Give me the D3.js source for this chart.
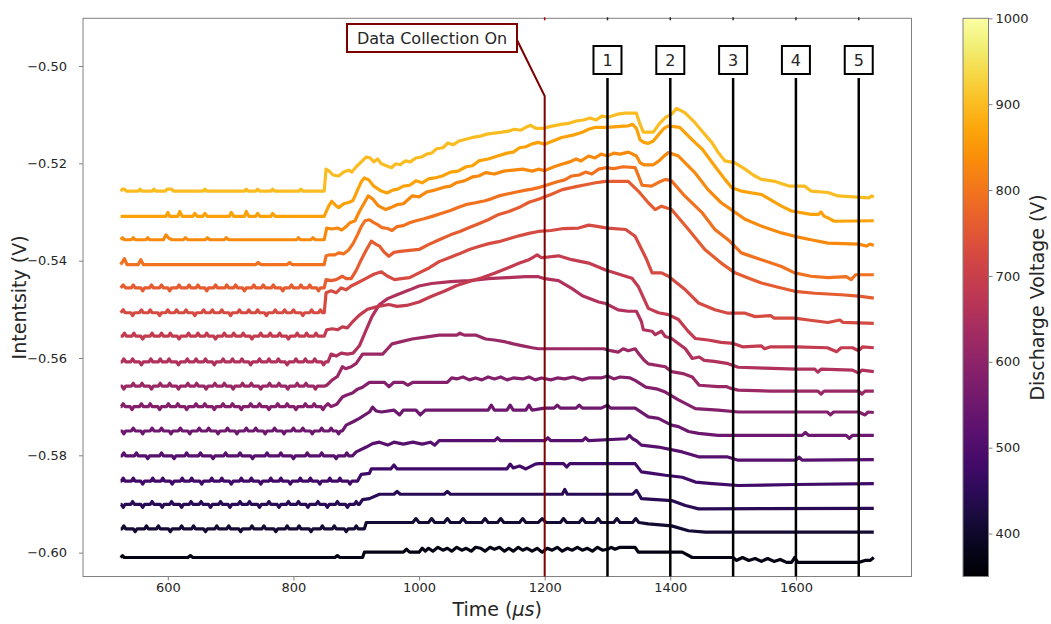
<!DOCTYPE html>
<html>
<head>
<meta charset="utf-8">
<script src="https://cdn.jsdelivr.net/npm/d3@7"></script>
<style>
  body { margin: 0; background: #fff; }
  svg { display: block; }
  text { font-family: "DejaVu Sans", sans-serif; fill: #262626; }
</style>
</head>
<body>
<svg id="chart" width="1051" height="624"></svg>
<script>
// Discharge voltage of each trace (V), top trace first
const voltages = [900, 865, 830, 795, 760, 725, 690, 655, 620, 585, 550, 515, 480, 445, 410, 375];

// Probe intensity traces: [time (µs), intensity (V)]
const trace900 = [[525,-.5257],[528,-.5253],[531,-.5253],[534,-.5257],[553,-.5257],[556,-.5253],[559,-.5257],[575,-.5257],[578,-.5253],[581,-.5257],[596,-.5257],[599,-.5253],[606,-.5253],[609,-.5257],[656,-.5257],[659,-.5253],[662,-.5257],[722,-.5257],[725,-.5253],[728,-.5257],[740,-.5257],[743,-.5253],[746,-.5257],[764,-.5257],[767,-.5253],[770,-.5257],[809,-.5257],[812,-.5253],[815,-.5257],[849,-.5257],[852,-.5212],[857,-.5216],[863,-.5224],[872,-.5226],[880,-.5218],[888,-.5214],[893,-.5218],[900,-.5207],[908,-.5197],[916,-.5187],[922,-.5189],[928,-.5197],[934,-.5191],[940,-.5201],[948,-.5205],[956,-.5209],[963,-.5201],[970,-.5203],[978,-.5195],[986,-.5197],[995,-.5189],[1004,-.5187],[1012,-.5181],[1020,-.5179],[1028,-.5170],[1038,-.5168],[1046,-.5158],[1054,-.5162],[1064,-.5154],[1076,-.5150],[1088,-.5146],[1098,-.5144],[1108,-.5140],[1120,-.5138],[1132,-.5136],[1142,-.5134],[1152,-.5130],[1162,-.5132],[1170,-.5126],[1178,-.5122],[1186,-.5128],[1198,-.5128],[1210,-.5124],[1226,-.5120],[1238,-.5118],[1250,-.5113],[1262,-.5111],[1272,-.5107],[1282,-.5111],[1291,-.5103],[1302,-.5105],[1316,-.5099],[1328,-.5097],[1346,-.5097],[1352,-.5120],[1357,-.5136],[1373,-.5136],[1383,-.5118],[1393,-.5105],[1402,-.5099],[1410,-.5087],[1423,-.5096],[1439,-.5116],[1452,-.5136],[1466,-.5157],[1477,-.5179],[1487,-.5195],[1503,-.5199],[1519,-.5212],[1532,-.5224],[1545,-.5233],[1566,-.5237],[1580,-.5243],[1590,-.5247],[1614,-.5247],[1624,-.5257],[1651,-.5260],[1667,-.5267],[1716,-.5271],[1720,-.5267],[1724,-.5269]];
const trace865 = [[525,-.5309],[597,-.5309],[600,-.5301],[603,-.5309],[616,-.5309],[619,-.5299],[623,-.5309],[640,-.5309],[643,-.5303],[647,-.5309],[656,-.5309],[659,-.5303],[663,-.5309],[698,-.5309],[701,-.5301],[705,-.5309],[722,-.5309],[725,-.5299],[729,-.5309],[740,-.5309],[743,-.5303],[747,-.5309],[764,-.5309],[767,-.5303],[771,-.5309],[849,-.5309],[856,-.5288],[861,-.5278],[866,-.5285],[872,-.5291],[880,-.5283],[889,-.5280],[895,-.5276],[902,-.5255],[908,-.5238],[913,-.5230],[920,-.5234],[928,-.5247],[940,-.5257],[949,-.5261],[958,-.5255],[966,-.5253],[975,-.5247],[985,-.5245],[995,-.5236],[1005,-.5240],[1015,-.5232],[1025,-.5230],[1037,-.5226],[1050,-.5218],[1062,-.5216],[1075,-.5207],[1085,-.5205],[1095,-.5195],[1110,-.5191],[1125,-.5185],[1140,-.5179],[1150,-.5177],[1160,-.5168],[1170,-.5166],[1180,-.5160],[1190,-.5157],[1200,-.5161],[1215,-.5153],[1227,-.5147],[1245,-.5142],[1260,-.5136],[1270,-.5130],[1281,-.5126],[1300,-.5126],[1320,-.5124],[1333,-.5123],[1340,-.5120],[1346,-.5128],[1352,-.5152],[1358,-.5157],[1365,-.5159],[1373,-.5154],[1382,-.5140],[1390,-.5128],[1397,-.5123],[1415,-.5126],[1429,-.5144],[1440,-.5158],[1451,-.5171],[1471,-.5206],[1487,-.5233],[1498,-.5250],[1513,-.5257],[1545,-.5264],[1560,-.5275],[1577,-.5288],[1593,-.5298],[1624,-.5305],[1636,-.5305],[1640,-.5300],[1645,-.5309],[1651,-.5312],[1661,-.5319],[1724,-.5318]];
const trace830 = [[525,-.5357],[528,-.5353],[531,-.5357],[542,-.5357],[545,-.5353],[548,-.5357],[565,-.5357],[568,-.5353],[571,-.5357],[593,-.5357],[597,-.5347],[601,-.5353],[606,-.5357],[625,-.5357],[628,-.5353],[632,-.5357],[660,-.5357],[663,-.5353],[667,-.5357],[690,-.5357],[693,-.5353],[697,-.5357],[805,-.5357],[808,-.5353],[811,-.5357],[828,-.5357],[831,-.5353],[835,-.5357],[849,-.5357],[853,-.5333],[862,-.5335],[870,-.5333],[877,-.5337],[884,-.5330],[890,-.5322],[898,-.5318],[905,-.5299],[912,-.5283],[919,-.5267],[926,-.5273],[935,-.5287],[947,-.5295],[955,-.5291],[965,-.5285],[975,-.5283],[989,-.5267],[1000,-.5269],[1012,-.5259],[1025,-.5255],[1040,-.5249],[1050,-.5247],[1059,-.5240],[1072,-.5236],[1085,-.5228],[1095,-.5226],[1106,-.5219],[1120,-.5222],[1135,-.5216],[1150,-.5214],[1165,-.5212],[1180,-.5216],[1190,-.5212],[1200,-.5215],[1215,-.5207],[1227,-.5202],[1240,-.5197],[1250,-.5191],[1258,-.5195],[1270,-.5185],[1280,-.5189],[1290,-.5181],[1300,-.5185],[1310,-.5179],[1320,-.5181],[1333,-.5177],[1340,-.5181],[1346,-.5185],[1352,-.5199],[1358,-.5203],[1373,-.5203],[1382,-.5195],[1390,-.5185],[1397,-.5178],[1413,-.5185],[1439,-.5219],[1460,-.5254],[1481,-.5281],[1497,-.5295],[1519,-.5315],[1545,-.5329],[1577,-.5343],[1598,-.5350],[1624,-.5357],[1651,-.5364],[1700,-.5366],[1712,-.5370],[1718,-.5366],[1724,-.5369]];
const trace795 = [[525,-.5408],[528,-.5402],[531,-.5396],[535,-.5408],[553,-.5408],[557,-.5398],[561,-.5408],[740,-.5408],[744,-.5404],[748,-.5408],[790,-.5408],[794,-.5404],[798,-.5408],[849,-.5408],[852,-.5390],[858,-.5388],[866,-.5388],[872,-.5384],[880,-.5386],[888,-.5378],[895,-.5365],[902,-.5347],[908,-.5330],[914,-.5318],[921,-.5316],[928,-.5322],[934,-.5326],[941,-.5332],[950,-.5334],[957,-.5338],[965,-.5330],[975,-.5328],[985,-.5322],[995,-.5318],[1008,-.5314],[1021,-.5309],[1035,-.5303],[1050,-.5297],[1062,-.5291],[1074,-.5285],[1090,-.5281],[1105,-.5277],[1115,-.5273],[1127,-.5267],[1140,-.5263],[1155,-.5259],[1170,-.5255],[1180,-.5253],[1190,-.5250],[1205,-.5244],[1220,-.5238],[1232,-.5234],[1243,-.5226],[1255,-.5224],[1265,-.5218],[1275,-.5222],[1286,-.5212],[1297,-.5209],[1310,-.5211],[1325,-.5207],[1344,-.5209],[1350,-.5228],[1355,-.5245],[1370,-.5247],[1380,-.5240],[1392,-.5233],[1402,-.5236],[1423,-.5267],[1451,-.5302],[1471,-.5336],[1492,-.5357],[1513,-.5384],[1545,-.5398],[1577,-.5412],[1598,-.5425],[1624,-.5432],[1651,-.5435],[1680,-.5433],[1688,-.5439],[1695,-.5429],[1724,-.5429]];
const trace760 = [[525,-.5456],[529,-.5450],[533,-.5456],[542,-.5456],[545,-.5450],[548,-.5456],[557,-.5456],[560,-.5462],[563,-.5456],[571,-.5456],[574,-.5450],[577,-.5456],[587,-.5456],[590,-.5450],[593,-.5456],[600,-.5456],[603,-.5462],[606,-.5456],[615,-.5456],[618,-.5450],[621,-.5456],[631,-.5456],[634,-.5450],[637,-.5456],[645,-.5456],[648,-.5450],[651,-.5456],[659,-.5456],[662,-.5462],[665,-.5456],[673,-.5456],[676,-.5450],[679,-.5456],[691,-.5456],[694,-.5450],[697,-.5456],[705,-.5456],[708,-.5450],[711,-.5456],[719,-.5456],[722,-.5462],[725,-.5456],[734,-.5456],[737,-.5450],[740,-.5456],[749,-.5456],[752,-.5450],[755,-.5456],[765,-.5456],[768,-.5450],[771,-.5456],[780,-.5456],[783,-.5462],[786,-.5456],[794,-.5456],[797,-.5450],[800,-.5456],[809,-.5456],[812,-.5450],[815,-.5456],[823,-.5456],[826,-.5450],[829,-.5456],[837,-.5456],[840,-.5462],[843,-.5456],[849,-.5456],[852,-.5439],[860,-.5441],[868,-.5439],[878,-.5432],[884,-.5437],[892,-.5437],[900,-.5420],[908,-.5398],[916,-.5378],[924,-.5360],[931,-.5366],[937,-.5370],[944,-.5382],[952,-.5391],[960,-.5383],[970,-.5381],[985,-.5379],[1000,-.5377],[1015,-.5367],[1032,-.5357],[1050,-.5347],[1065,-.5340],[1080,-.5332],[1095,-.5324],[1110,-.5316],[1127,-.5305],[1143,-.5299],[1159,-.5291],[1175,-.5280],[1190,-.5274],[1210,-.5264],[1228,-.5254],[1250,-.5248],[1265,-.5244],[1281,-.5240],[1297,-.5237],[1333,-.5237],[1349,-.5257],[1365,-.5281],[1376,-.5295],[1386,-.5288],[1402,-.5295],[1429,-.5336],[1455,-.5377],[1481,-.5405],[1503,-.5425],[1525,-.5436],[1545,-.5446],[1570,-.5454],[1598,-.5463],[1630,-.5467],[1672,-.5470],[1700,-.5473],[1724,-.5477]];
const trace725 = [[525,-.5507],[529,-.5501],[532,-.5507],[541,-.5507],[544,-.5513],[547,-.5507],[555,-.5507],[558,-.5501],[561,-.5507],[569,-.5507],[572,-.5501],[575,-.5507],[584,-.5507],[587,-.5513],[590,-.5507],[597,-.5507],[600,-.5501],[603,-.5507],[611,-.5507],[614,-.5501],[617,-.5507],[626,-.5507],[629,-.5501],[632,-.5507],[640,-.5507],[643,-.5513],[646,-.5507],[654,-.5507],[657,-.5501],[660,-.5507],[668,-.5507],[671,-.5501],[674,-.5507],[683,-.5507],[686,-.5501],[689,-.5507],[697,-.5507],[700,-.5513],[703,-.5507],[711,-.5507],[714,-.5501],[717,-.5507],[726,-.5507],[729,-.5501],[732,-.5507],[740,-.5507],[743,-.5501],[746,-.5507],[754,-.5507],[757,-.5513],[760,-.5507],[768,-.5507],[771,-.5501],[774,-.5507],[783,-.5507],[786,-.5501],[789,-.5507],[797,-.5507],[800,-.5501],[803,-.5507],[812,-.5507],[815,-.5513],[818,-.5507],[826,-.5507],[829,-.5501],[832,-.5507],[840,-.5507],[843,-.5501],[846,-.5507],[849,-.5507],[852,-.5466],[860,-.5462],[868,-.5466],[876,-.5456],[884,-.5460],[892,-.5452],[900,-.5447],[915,-.5437],[928,-.5428],[940,-.5423],[950,-.5432],[961,-.5439],[972,-.5437],[985,-.5435],[1000,-.5425],[1016,-.5415],[1032,-.5402],[1048,-.5394],[1064,-.5386],[1080,-.5377],[1095,-.5371],[1111,-.5365],[1127,-.5361],[1143,-.5355],[1159,-.5349],[1175,-.5344],[1190,-.5340],[1210,-.5338],[1230,-.5334],[1254,-.5333],[1270,-.5327],[1281,-.5329],[1300,-.5333],[1329,-.5336],[1344,-.5350],[1361,-.5394],[1371,-.5425],[1386,-.5425],[1397,-.5432],[1424,-.5460],[1445,-.5487],[1471,-.5501],[1492,-.5508],[1519,-.5508],[1535,-.5515],[1560,-.5513],[1565,-.5518],[1598,-.5518],[1620,-.5522],[1651,-.5527],[1670,-.5522],[1675,-.5527],[1724,-.5529]];
const trace690 = [[525,-.5555],[528,-.5555],[531,-.5549],[534,-.5555],[543,-.5555],[546,-.5549],[549,-.5555],[557,-.5555],[560,-.5561],[563,-.5555],[572,-.5555],[575,-.5549],[578,-.5555],[587,-.5555],[590,-.5549],[593,-.5555],[601,-.5555],[604,-.5549],[607,-.5555],[615,-.5555],[618,-.5561],[621,-.5555],[630,-.5555],[633,-.5549],[636,-.5555],[645,-.5555],[648,-.5549],[651,-.5555],[659,-.5555],[662,-.5549],[665,-.5555],[673,-.5555],[676,-.5561],[679,-.5555],[687,-.5555],[690,-.5549],[693,-.5555],[702,-.5555],[705,-.5549],[708,-.5555],[717,-.5555],[720,-.5549],[723,-.5555],[731,-.5555],[734,-.5561],[737,-.5555],[745,-.5555],[748,-.5549],[751,-.5555],[760,-.5555],[763,-.5549],[766,-.5555],[775,-.5555],[778,-.5549],[781,-.5555],[789,-.5555],[792,-.5561],[795,-.5555],[803,-.5555],[806,-.5549],[809,-.5555],[818,-.5555],[821,-.5549],[824,-.5555],[833,-.5555],[836,-.5549],[839,-.5555],[849,-.5555],[853,-.5542],[862,-.5540],[870,-.5542],[878,-.5536],[886,-.5538],[894,-.5526],[905,-.5512],[918,-.5500],[935,-.5494],[952,-.5490],[965,-.5494],[980,-.5492],[1000,-.5485],[1020,-.5473],[1040,-.5463],[1060,-.5451],[1080,-.5443],[1100,-.5435],[1120,-.5426],[1143,-.5414],[1160,-.5405],[1175,-.5398],[1183,-.5392],[1188,-.5388],[1195,-.5394],[1222,-.5390],[1243,-.5398],[1270,-.5405],[1297,-.5419],[1339,-.5436],[1349,-.5453],[1365,-.5498],[1381,-.5507],[1397,-.5511],[1413,-.5521],[1429,-.5546],[1440,-.5560],[1460,-.5563],[1481,-.5568],[1500,-.5570],[1515,-.5577],[1545,-.5575],[1550,-.5581],[1560,-.5577],[1600,-.5577],[1650,-.5579],[1665,-.5587],[1672,-.5579],[1690,-.5579],[1700,-.5585],[1706,-.5577],[1724,-.5579]];
const trace655 = [[525,-.5608],[527,-.5608],[530,-.5602],[533,-.5608],[541,-.5608],[544,-.5602],[547,-.5608],[555,-.5608],[558,-.5614],[561,-.5608],[570,-.5608],[573,-.5602],[576,-.5608],[585,-.5608],[588,-.5602],[591,-.5608],[599,-.5608],[602,-.5602],[605,-.5608],[614,-.5608],[617,-.5614],[620,-.5608],[628,-.5608],[631,-.5602],[634,-.5608],[642,-.5608],[645,-.5602],[648,-.5608],[657,-.5608],[660,-.5602],[663,-.5608],[671,-.5608],[674,-.5614],[677,-.5608],[685,-.5608],[688,-.5602],[691,-.5608],[700,-.5608],[703,-.5602],[706,-.5608],[715,-.5608],[718,-.5602],[721,-.5608],[729,-.5608],[732,-.5614],[735,-.5608],[743,-.5608],[746,-.5602],[749,-.5608],[758,-.5608],[761,-.5602],[764,-.5608],[773,-.5608],[776,-.5602],[779,-.5608],[787,-.5608],[790,-.5614],[793,-.5608],[801,-.5608],[804,-.5602],[807,-.5608],[816,-.5608],[819,-.5602],[822,-.5608],[831,-.5608],[834,-.5602],[837,-.5608],[845,-.5608],[848,-.5614],[851,-.5608],[855,-.5608],[860,-.5592],[868,-.5596],[876,-.5590],[886,-.5592],[895,-.5590],[905,-.5575],[915,-.5545],[925,-.5515],[937,-.5490],[950,-.5478],[965,-.5470],[985,-.5460],[1000,-.5452],[1020,-.5447],[1050,-.5443],[1080,-.5441],[1110,-.5437],[1140,-.5435],[1170,-.5433],[1190,-.5433],[1200,-.5437],[1222,-.5441],[1243,-.5457],[1260,-.5472],[1286,-.5485],[1297,-.5488],[1317,-.5501],[1333,-.5504],[1346,-.5504],[1354,-.5525],[1357,-.5542],[1371,-.5545],[1376,-.5552],[1386,-.5545],[1392,-.5556],[1402,-.5560],[1424,-.5581],[1435,-.5601],[1446,-.5598],[1454,-.5605],[1470,-.5607],[1490,-.5611],[1508,-.5619],[1550,-.5621],[1600,-.5623],[1630,-.5623],[1635,-.5629],[1640,-.5623],[1690,-.5625],[1700,-.5631],[1705,-.5625],[1724,-.5628]];
const trace620 = [[525,-.5658],[527,-.5658],[530,-.5664],[533,-.5658],[542,-.5658],[545,-.5652],[548,-.5658],[556,-.5658],[559,-.5652],[562,-.5658],[571,-.5658],[574,-.5664],[577,-.5658],[585,-.5658],[588,-.5652],[591,-.5658],[600,-.5658],[603,-.5652],[606,-.5658],[614,-.5658],[617,-.5664],[620,-.5658],[629,-.5658],[632,-.5652],[635,-.5658],[643,-.5658],[646,-.5652],[649,-.5658],[658,-.5658],[661,-.5664],[664,-.5658],[672,-.5658],[675,-.5652],[678,-.5658],[687,-.5658],[690,-.5652],[693,-.5658],[701,-.5658],[704,-.5664],[707,-.5658],[716,-.5658],[719,-.5652],[722,-.5658],[730,-.5658],[733,-.5652],[736,-.5658],[745,-.5658],[748,-.5664],[751,-.5658],[759,-.5658],[762,-.5652],[765,-.5658],[774,-.5658],[777,-.5652],[780,-.5658],[788,-.5658],[791,-.5664],[794,-.5658],[803,-.5658],[806,-.5652],[809,-.5658],[817,-.5658],[820,-.5652],[823,-.5658],[832,-.5658],[835,-.5664],[838,-.5658],[849,-.5658],[853,-.5656],[862,-.5645],[870,-.5638],[878,-.5618],[883,-.5622],[892,-.5618],[900,-.5611],[910,-.5592],[925,-.5592],[942,-.5592],[950,-.5581],[957,-.5571],[970,-.5567],[989,-.5561],[1010,-.5557],[1032,-.5553],[1060,-.5553],[1065,-.5549],[1072,-.5553],[1090,-.5553],[1098,-.5557],[1106,-.5561],[1120,-.5563],[1138,-.5567],[1150,-.5571],[1165,-.5575],[1180,-.5579],[1190,-.5581],[1294,-.5581],[1305,-.5585],[1317,-.5588],[1325,-.5581],[1333,-.5585],[1344,-.5581],[1349,-.5590],[1358,-.5604],[1365,-.5612],[1392,-.5618],[1402,-.5628],[1420,-.5632],[1435,-.5639],[1446,-.5656],[1476,-.5659],[1490,-.5659],[1495,-.5662],[1508,-.5666],[1560,-.5668],[1635,-.5668],[1640,-.5674],[1645,-.5668],[1700,-.5668],[1705,-.5674],[1710,-.5668],[1724,-.5668]];
const trace585 = [[525,-.5700],[526,-.5700],[529,-.5694],[532,-.5700],[540,-.5700],[543,-.5706],[546,-.5700],[555,-.5700],[558,-.5694],[561,-.5700],[569,-.5700],[572,-.5694],[575,-.5700],[584,-.5700],[587,-.5706],[590,-.5700],[598,-.5700],[601,-.5694],[604,-.5700],[613,-.5700],[616,-.5694],[619,-.5700],[627,-.5700],[630,-.5706],[633,-.5700],[642,-.5700],[645,-.5694],[648,-.5700],[656,-.5700],[659,-.5694],[662,-.5700],[671,-.5700],[674,-.5706],[677,-.5700],[685,-.5700],[688,-.5694],[691,-.5700],[700,-.5700],[703,-.5694],[706,-.5700],[714,-.5700],[717,-.5706],[720,-.5700],[729,-.5700],[732,-.5694],[735,-.5700],[743,-.5700],[746,-.5694],[749,-.5700],[758,-.5700],[761,-.5706],[764,-.5700],[772,-.5700],[775,-.5694],[778,-.5700],[787,-.5700],[790,-.5694],[793,-.5700],[801,-.5700],[804,-.5706],[807,-.5700],[816,-.5700],[819,-.5694],[822,-.5700],[830,-.5700],[833,-.5694],[836,-.5700],[844,-.5700],[847,-.5706],[850,-.5700],[855,-.5694],[860,-.5700],[869,-.5695],[878,-.5680],[885,-.5676],[894,-.5672],[902,-.5664],[910,-.5660],[921,-.5650],[945,-.5650],[952,-.5659],[960,-.5650],[975,-.5650],[982,-.5656],[990,-.5650],[1045,-.5650],[1052,-.5641],[1060,-.5643],[1070,-.5639],[1080,-.5645],[1090,-.5641],[1100,-.5645],[1110,-.5639],[1120,-.5643],[1130,-.5639],[1140,-.5645],[1150,-.5641],[1165,-.5643],[1175,-.5639],[1185,-.5645],[1195,-.5641],[1210,-.5645],[1220,-.5641],[1232,-.5643],[1245,-.5639],[1260,-.5645],[1270,-.5641],[1290,-.5641],[1300,-.5637],[1310,-.5643],[1320,-.5639],[1336,-.5641],[1344,-.5646],[1361,-.5660],[1380,-.5664],[1392,-.5670],[1413,-.5686],[1440,-.5704],[1476,-.5707],[1508,-.5711],[1650,-.5711],[1655,-.5717],[1660,-.5711],[1700,-.5711],[1710,-.5717],[1715,-.5711],[1724,-.5712]];
const trace550 = [[525,-.5750],[527,-.5750],[530,-.5756],[533,-.5750],[542,-.5750],[545,-.5744],[548,-.5750],[557,-.5750],[560,-.5756],[563,-.5750],[572,-.5750],[575,-.5744],[578,-.5750],[587,-.5750],[590,-.5744],[593,-.5750],[602,-.5750],[605,-.5756],[608,-.5750],[617,-.5750],[620,-.5744],[623,-.5750],[632,-.5750],[635,-.5756],[638,-.5750],[647,-.5750],[650,-.5744],[653,-.5750],[662,-.5750],[665,-.5744],[668,-.5750],[677,-.5750],[680,-.5756],[683,-.5750],[692,-.5750],[695,-.5744],[698,-.5750],[707,-.5750],[710,-.5756],[713,-.5750],[722,-.5750],[725,-.5744],[728,-.5750],[737,-.5750],[740,-.5744],[743,-.5750],[752,-.5750],[755,-.5756],[758,-.5750],[767,-.5750],[770,-.5744],[773,-.5750],[782,-.5750],[785,-.5756],[788,-.5750],[797,-.5750],[800,-.5744],[803,-.5750],[812,-.5750],[815,-.5744],[818,-.5750],[827,-.5750],[830,-.5756],[833,-.5750],[842,-.5750],[845,-.5744],[848,-.5750],[857,-.5750],[860,-.5744],[863,-.5750],[869,-.5750],[872,-.5756],[875,-.5750],[878,-.5750],[884,-.5738],[895,-.5731],[905,-.5724],[921,-.5711],[926,-.5701],[932,-.5709],[940,-.5711],[960,-.5707],[969,-.5717],[975,-.5707],[995,-.5707],[1002,-.5717],[1010,-.5707],[1110,-.5707],[1115,-.5697],[1120,-.5707],[1140,-.5707],[1145,-.5697],[1150,-.5707],[1170,-.5707],[1175,-.5697],[1180,-.5707],[1200,-.5703],[1215,-.5703],[1220,-.5697],[1225,-.5703],[1250,-.5703],[1255,-.5697],[1260,-.5703],[1290,-.5703],[1300,-.5697],[1305,-.5703],[1344,-.5703],[1365,-.5721],[1381,-.5724],[1402,-.5738],[1413,-.5741],[1429,-.5751],[1445,-.5755],[1476,-.5759],[1610,-.5759],[1615,-.5753],[1620,-.5759],[1680,-.5759],[1685,-.5765],[1690,-.5759],[1724,-.5759]];
const trace515 = [[525,-.5801],[527,-.5801],[530,-.5795],[533,-.5801],[547,-.5801],[550,-.5795],[553,-.5801],[565,-.5801],[568,-.5807],[571,-.5801],[587,-.5801],[590,-.5795],[593,-.5801],[607,-.5801],[610,-.5807],[613,-.5801],[627,-.5801],[630,-.5795],[633,-.5801],[649,-.5801],[652,-.5795],[655,-.5801],[669,-.5801],[672,-.5807],[675,-.5801],[689,-.5801],[692,-.5795],[695,-.5801],[712,-.5801],[715,-.5795],[718,-.5801],[732,-.5801],[735,-.5807],[738,-.5801],[755,-.5801],[758,-.5795],[761,-.5801],[777,-.5801],[780,-.5795],[783,-.5801],[797,-.5801],[800,-.5807],[803,-.5801],[819,-.5801],[822,-.5795],[825,-.5801],[842,-.5801],[845,-.5795],[848,-.5801],[865,-.5801],[868,-.5807],[871,-.5801],[882,-.5801],[885,-.5795],[888,-.5801],[894,-.5801],[900,-.5793],[916,-.5783],[926,-.5776],[937,-.5773],[950,-.5779],[960,-.5773],[975,-.5777],[990,-.5773],[1005,-.5777],[1018,-.5773],[1025,-.5779],[1032,-.5770],[1120,-.5770],[1125,-.5764],[1130,-.5770],[1200,-.5770],[1205,-.5764],[1210,-.5770],[1260,-.5770],[1265,-.5764],[1270,-.5770],[1330,-.5766],[1335,-.5759],[1340,-.5766],[1346,-.5770],[1354,-.5779],[1381,-.5783],[1419,-.5793],[1445,-.5803],[1490,-.5803],[1508,-.5810],[1600,-.5810],[1605,-.5804],[1610,-.5810],[1724,-.5809]];
const trace480 = [[525,-.5853],[526,-.5853],[529,-.5847],[532,-.5853],[542,-.5853],[545,-.5847],[548,-.5853],[557,-.5853],[560,-.5859],[563,-.5853],[573,-.5853],[576,-.5847],[579,-.5853],[589,-.5853],[592,-.5847],[595,-.5853],[604,-.5853],[607,-.5859],[610,-.5853],[620,-.5853],[623,-.5847],[626,-.5853],[635,-.5853],[638,-.5847],[641,-.5853],[651,-.5853],[654,-.5859],[657,-.5853],[667,-.5853],[670,-.5847],[673,-.5853],[683,-.5853],[686,-.5847],[689,-.5853],[698,-.5853],[701,-.5859],[704,-.5853],[714,-.5853],[717,-.5847],[720,-.5853],[730,-.5853],[733,-.5847],[736,-.5853],[745,-.5853],[748,-.5859],[751,-.5853],[761,-.5853],[764,-.5847],[767,-.5853],[777,-.5853],[780,-.5847],[783,-.5853],[792,-.5853],[795,-.5859],[798,-.5853],[808,-.5853],[811,-.5847],[814,-.5853],[824,-.5853],[827,-.5847],[830,-.5853],[839,-.5853],[842,-.5859],[845,-.5853],[855,-.5853],[858,-.5847],[861,-.5853],[871,-.5853],[874,-.5847],[877,-.5853],[887,-.5853],[890,-.5859],[893,-.5853],[902,-.5853],[908,-.5839],[921,-.5837],[924,-.5828],[955,-.5828],[960,-.5820],[965,-.5828],[1140,-.5828],[1145,-.5818],[1150,-.5826],[1160,-.5822],[1170,-.5828],[1185,-.5818],[1190,-.5817],[1230,-.5817],[1235,-.5824],[1240,-.5817],[1344,-.5817],[1354,-.5834],[1371,-.5837],[1392,-.5841],[1419,-.5845],[1440,-.5855],[1467,-.5858],[1508,-.5862],[1600,-.5860],[1724,-.5858]];
const trace445 = [[525,-.5901],[526,-.5901],[529,-.5907],[532,-.5901],[541,-.5901],[544,-.5895],[547,-.5901],[557,-.5901],[560,-.5907],[563,-.5901],[572,-.5901],[575,-.5895],[578,-.5901],[588,-.5901],[591,-.5907],[594,-.5901],[603,-.5901],[606,-.5895],[609,-.5901],[619,-.5901],[622,-.5907],[625,-.5901],[634,-.5901],[637,-.5895],[640,-.5901],[650,-.5901],[653,-.5895],[656,-.5901],[665,-.5901],[668,-.5907],[671,-.5901],[681,-.5901],[684,-.5895],[687,-.5901],[696,-.5901],[699,-.5907],[702,-.5901],[712,-.5901],[715,-.5895],[718,-.5901],[727,-.5901],[730,-.5895],[733,-.5901],[743,-.5901],[746,-.5907],[749,-.5901],[758,-.5901],[761,-.5895],[764,-.5901],[774,-.5901],[777,-.5907],[780,-.5901],[789,-.5901],[792,-.5895],[795,-.5901],[805,-.5901],[808,-.5895],[811,-.5901],[820,-.5901],[823,-.5907],[826,-.5901],[836,-.5901],[839,-.5895],[842,-.5901],[851,-.5901],[854,-.5907],[857,-.5901],[867,-.5901],[870,-.5895],[873,-.5901],[883,-.5901],[886,-.5907],[889,-.5901],[897,-.5901],[900,-.5895],[903,-.5901],[905,-.5901],[910,-.5891],[921,-.5889],[937,-.5880],[960,-.5880],[965,-.5874],[970,-.5880],[1040,-.5880],[1045,-.5874],[1050,-.5880],[1228,-.5880],[1232,-.5870],[1236,-.5880],[1340,-.5880],[1346,-.5872],[1350,-.5880],[1354,-.5889],[1402,-.5893],[1424,-.5903],[1445,-.5910],[1724,-.5909]];
const trace410 = [[525,-.5951],[527,-.5951],[530,-.5945],[533,-.5951],[545,-.5951],[548,-.5957],[551,-.5951],[563,-.5951],[566,-.5945],[569,-.5951],[582,-.5951],[585,-.5945],[588,-.5951],[601,-.5951],[604,-.5957],[607,-.5951],[619,-.5951],[622,-.5945],[625,-.5951],[638,-.5951],[641,-.5945],[644,-.5951],[657,-.5951],[660,-.5957],[663,-.5951],[675,-.5951],[678,-.5945],[681,-.5951],[694,-.5951],[697,-.5945],[700,-.5951],[713,-.5951],[716,-.5957],[719,-.5951],[731,-.5951],[734,-.5945],[737,-.5951],[750,-.5951],[753,-.5945],[756,-.5951],[769,-.5951],[772,-.5957],[775,-.5951],[787,-.5951],[790,-.5945],[793,-.5951],[806,-.5951],[809,-.5945],[812,-.5951],[825,-.5951],[828,-.5957],[831,-.5951],[843,-.5951],[846,-.5945],[849,-.5951],[862,-.5951],[865,-.5945],[868,-.5951],[881,-.5951],[884,-.5957],[887,-.5951],[897,-.5951],[900,-.5945],[903,-.5951],[913,-.5951],[916,-.5938],[990,-.5938],[995,-.5930],[1000,-.5938],[1015,-.5938],[1020,-.5930],[1025,-.5938],[1040,-.5938],[1045,-.5930],[1050,-.5938],[1065,-.5938],[1070,-.5930],[1075,-.5938],[1100,-.5938],[1105,-.5930],[1110,-.5938],[1125,-.5938],[1130,-.5930],[1135,-.5938],[1160,-.5938],[1165,-.5930],[1170,-.5938],[1190,-.5938],[1196,-.5930],[1202,-.5938],[1225,-.5938],[1230,-.5930],[1235,-.5938],[1255,-.5938],[1260,-.5930],[1265,-.5938],[1280,-.5938],[1285,-.5930],[1290,-.5938],[1310,-.5938],[1315,-.5930],[1320,-.5938],[1340,-.5938],[1345,-.5930],[1350,-.5938],[1365,-.5941],[1402,-.5945],[1429,-.5955],[1456,-.5958],[1724,-.5958]];
const trace375 = [[525,-.6010],[528,-.6006],[531,-.6010],[632,-.6010],[636,-.6006],[640,-.6010],[866,-.6010],[870,-.6006],[874,-.6010],[910,-.6010],[913,-.5999],[975,-.5999],[980,-.5993],[985,-.5999],[1000,-.5999],[1005,-.5991],[1010,-.5997],[1015,-.5991],[1022,-.5997],[1030,-.5989],[1038,-.5995],[1045,-.5991],[1052,-.5997],[1060,-.5989],[1068,-.5995],[1075,-.5991],[1083,-.5997],[1090,-.5989],[1098,-.5991],[1105,-.5997],[1113,-.5989],[1120,-.5993],[1128,-.5989],[1136,-.5997],[1143,-.5991],[1150,-.5997],[1158,-.5989],[1165,-.5995],[1172,-.5991],[1180,-.5997],[1188,-.5991],[1196,-.5999],[1204,-.5991],[1212,-.5995],[1220,-.5989],[1228,-.5997],[1236,-.5991],[1244,-.5995],[1252,-.5989],[1260,-.5995],[1268,-.5991],[1276,-.5997],[1284,-.5989],[1292,-.5995],[1300,-.5993],[1306,-.5989],[1312,-.5993],[1320,-.5989],[1344,-.5989],[1349,-.5999],[1419,-.5999],[1435,-.6010],[1500,-.6010],[1505,-.6016],[1515,-.6010],[1525,-.6016],[1535,-.6012],[1545,-.6018],[1555,-.6012],[1565,-.6018],[1575,-.6014],[1585,-.6020],[1593,-.6020],[1598,-.6010],[1603,-.6020],[1700,-.6020],[1710,-.6016],[1718,-.6016],[1724,-.6010]];

const traces = [trace900, trace865, trace830, trace795, trace760, trace725, trace690, trace655,
                trace620, trace585, trace550, trace515, trace480, trace445, trace410, trace375];

const xTicks = [600, 800, 1000, 1200, 1400, 1600];
const yTicks = [-0.60, -0.58, -0.56, -0.54, -0.52, -0.50];
const cbarTicks = [400, 500, 600, 700, 800, 900, 1000];
const collectionStart = 1200;
const markerTimes = [1300, 1400, 1500, 1600, 1700];
const markerLabels = ["1", "2", "3", "4", "5"];

const svg = d3.select("#chart");
const W = 1051, H = 624;
const plot = { left: 83, right: 911.5, top: 18.3, bottom: 576.5 };

const x = d3.scaleLinear().domain([465, 1784]).range([plot.left, plot.right]);
const y = d3.scaleLinear().domain([-0.6049, -0.4902]).range([plot.bottom, plot.top]);
const color = d3.scaleSequential(d3.interpolateInferno).domain([350, 1000]);

svg.append("rect").attr("width", W).attr("height", H).attr("fill", "#fff");

const defs = svg.append("defs");
defs.append("clipPath").attr("id", "plotclip")
  .append("rect").attr("x", plot.left).attr("y", plot.top)
  .attr("width", plot.right - plot.left).attr("height", plot.bottom - plot.top);

// traces (lowest voltage drawn first)
const line = d3.line().x(d => x(d[0])).y(d => y(d[1]));
const traceGroup = svg.append("g").attr("clip-path", "url(#plotclip)");
traces.map((tr, i) => ({ tr, v: voltages[i] })).reverse().forEach(({ tr, v }) => {
  traceGroup.append("path")
    .attr("d", line(tr))
    .attr("fill", "none")
    .attr("stroke", color(v))
    .attr("stroke-width", 3.2)
    .attr("stroke-linejoin", "round")
    .attr("stroke-linecap", "butt");
});

// axes
const axisColor = "#808080";
const xAxis = svg.append("g").attr("transform", `translate(0,${plot.bottom})`)
  .call(d3.axisBottom(x).tickValues(xTicks).tickSize(4).tickPadding(2).tickFormat(d3.format("d")));
const yAxis = svg.append("g").attr("transform", `translate(${plot.left},0)`)
  .call(d3.axisLeft(y).tickValues(yTicks).tickSize(4).tickPadding(12).tickFormat(d3.format(".2f")));
[xAxis, yAxis].forEach(a => {
  a.select(".domain").remove();
  a.selectAll(".tick line").attr("stroke", axisColor).attr("stroke-width", 1);
  a.selectAll(".tick text").attr("fill", "#262626")
    .style("font-family", '"DejaVu Sans", sans-serif').style("font-size", "13px");
});

svg.append("rect")
  .attr("x", plot.left).attr("y", plot.top)
  .attr("width", plot.right - plot.left).attr("height", plot.bottom - plot.top)
  .attr("fill", "none").attr("stroke", axisColor).attr("stroke-width", 1);

// axis labels
svg.append("text").attr("x", (plot.left + plot.right) / 2).attr("y", 616)
  .attr("text-anchor", "middle").style("font-size", "19px")
  .call(t => { t.append("tspan").text("Time ("); t.append("tspan").style("font-style", "italic").text("μs"); t.append("tspan").text(")"); });
svg.append("text")
  .attr("transform", `translate(26,${(plot.top + plot.bottom) / 2}) rotate(-90)`)
  .attr("text-anchor", "middle").style("font-size", "19px").text("Intentsity (V)");

// marker lines with numbered boxes
markerTimes.forEach((t, i) => {
  const cx = x(t);
  svg.append("line").attr("x1", cx).attr("x2", cx).attr("y1", 78).attr("y2", plot.bottom)
    .attr("stroke", "#000").attr("stroke-width", 2.5);
  svg.append("line").attr("x1", cx).attr("x2", cx).attr("y1", plot.top - 1).attr("y2", plot.top + 2)
    .attr("stroke", "#262626").attr("stroke-width", 1.5);
  svg.append("rect").attr("x", cx - 14).attr("y", 46).attr("width", 28).attr("height", 28)
    .attr("fill", "#fff").attr("stroke", "#000").attr("stroke-width", 2);
  svg.append("text").attr("x", cx).attr("y", 66).attr("text-anchor", "middle")
    .style("font-size", "16px").attr("fill", "#000").text(markerLabels[i]);
});

// data collection annotation
const redX = x(collectionStart);
const annColor = "#7d0000";
svg.append("line").attr("x1", redX).attr("x2", redX).attr("y1", plot.top - 1).attr("y2", plot.top + 2)
  .attr("stroke", "#b00000").attr("stroke-width", 1.5);
svg.append("path")
  .attr("d", `M517,40 L${redX},96 L${redX},${plot.bottom}`)
  .attr("fill", "none").attr("stroke", annColor).attr("stroke-width", 2);
svg.append("rect").attr("x", 347).attr("y", 24).attr("width", 170).attr("height", 28)
  .attr("fill", "#fff").attr("stroke", annColor).attr("stroke-width", 2);
svg.append("text").attr("x", 432).attr("y", 44).attr("text-anchor", "middle")
  .style("font-size", "16px").attr("fill", "#000").text("Data Collection On");

// colorbar
const cb = { x: 963, w: 25.5, top: 18.3, bottom: 576.5 };
const cbScale = d3.scaleLinear().domain([350, 1000]).range([cb.bottom, cb.top]);
const grad = defs.append("linearGradient").attr("id", "cbgrad")
  .attr("x1", 0).attr("y1", 1).attr("x2", 0).attr("y2", 0);
d3.range(0, 1.0001, 0.05).forEach(p => {
  grad.append("stop").attr("offset", p).attr("stop-color", d3.interpolateInferno(p));
});
svg.append("rect").attr("x", cb.x).attr("y", cb.top).attr("width", cb.w).attr("height", cb.bottom - cb.top)
  .attr("fill", "url(#cbgrad)").attr("stroke", axisColor).attr("stroke-width", 1);
const cbAxis = svg.append("g").attr("transform", `translate(${cb.x + cb.w},0)`)
  .call(d3.axisRight(cbScale).tickValues(cbarTicks).tickSize(4).tickPadding(3).tickFormat(d3.format("d")));
cbAxis.select(".domain").remove();
cbAxis.selectAll(".tick line").attr("stroke", axisColor);
cbAxis.selectAll(".tick text").attr("fill", "#262626")
  .style("font-family", '"DejaVu Sans", sans-serif').style("font-size", "13px");
svg.append("text")
  .attr("transform", `translate(1044,${(cb.top + cb.bottom) / 2}) rotate(-90)`)
  .attr("text-anchor", "middle").style("font-size", "19px").text("Discharge Voltage (V)");
</script>
</body>
</html>
